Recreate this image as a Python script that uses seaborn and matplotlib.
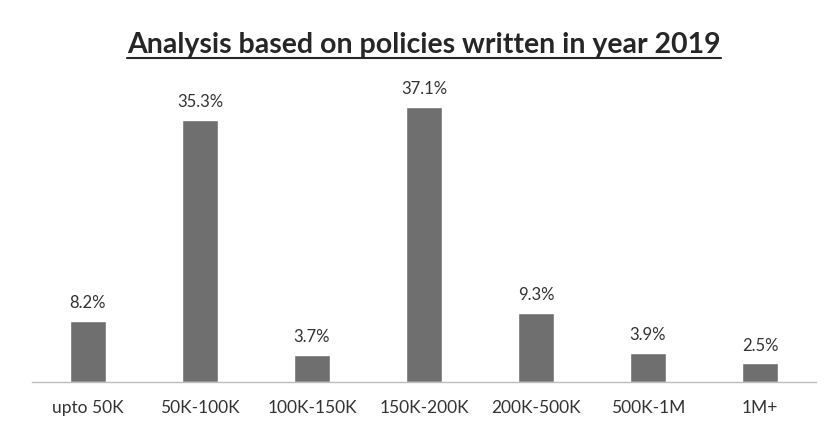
import matplotlib
matplotlib.use("Agg")
import matplotlib.pyplot as plt
import seaborn as sns
import pandas as pd
from matplotlib.lines import Line2D

categories = ["upto 50K", "50K-100K", "100K-150K", "150K-200K", "200K-500K", "500K-1M", "1M+"]
values = [8.2, 35.3, 3.7, 37.1, 9.3, 3.9, 2.5]
value_labels = ["8.2%", "35.3%", "3.7%", "37.1%", "9.3%", "3.9%", "2.5%"]
title = "Analysis based on policies written in year 2019"

sns.set_theme(style="white")
plt.rcParams['font.family'] = ['Lato', 'DejaVu Sans']

df = pd.DataFrame({"cat": categories, "val": values})

fig = plt.figure(figsize=(8.34, 4.32), dpi=100)
fig.patch.set_facecolor("white")
ax = fig.add_axes([32/834, 50/432, 784/834, 297/432])
sns.barplot(data=df, x="cat", y="val", color="#6f6f6f", saturation=1, width=0.32, ax=ax)
ax.set_xlim(-0.5, 6.5)
ax.set_ylim(0, 40)
ax.set_xlabel("")
ax.set_ylabel("")
ax.set_yticks([])
for s in ["top", "right", "left"]:
    ax.spines[s].set_visible(False)
ax.spines["bottom"].set_color("#bdbdbd")
ax.spines["bottom"].set_linewidth(1.0)
ax.tick_params(axis="x", length=0, pad=13, labelsize=12.5, labelcolor="#333333")

for i, (v, lab) in enumerate(zip(values, value_labels)):
    ax.annotate(lab, (i, v), xytext=(0, 7), textcoords="offset points",
                ha="center", va="bottom", fontsize=12, color="#333333")

t = fig.text(424/834, 1 - 45/432, title, ha="center", va="center",
             fontsize=20.5, fontweight="bold", color="#262626")
fig.canvas.draw()
bb = t.get_window_extent(renderer=fig.canvas.get_renderer())
fig.add_artist(Line2D([bb.x0/834, bb.x1/834], [(432-58)/432]*2,
                      transform=fig.transFigure, color="#262626", linewidth=1.5))

fig.savefig("out.png", dpi=100, facecolor="white")
